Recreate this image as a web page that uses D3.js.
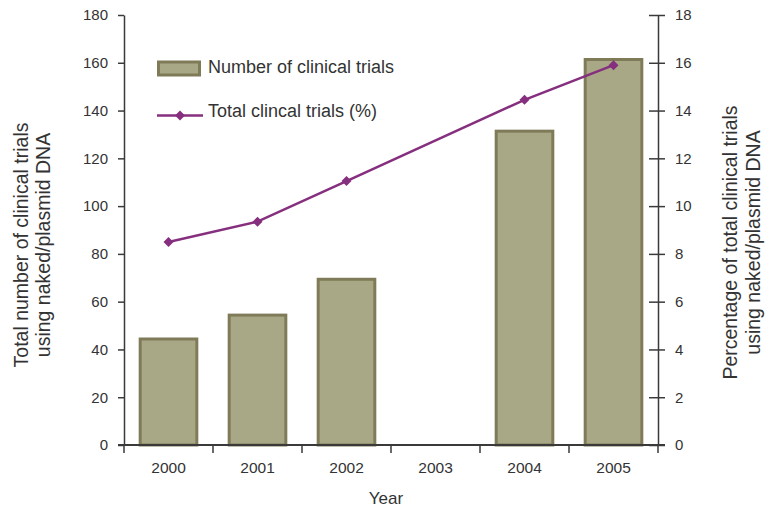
<!DOCTYPE html>
<html><head><meta charset="utf-8">
<script src="https://cdn.jsdelivr.net/npm/d3@7"></script>
<style>
body{margin:0;background:#fff;}
text{font-family:"Liberation Sans",Arial,Helvetica,sans-serif;fill:#333;}
</style></head>
<body><svg id="c" width="766" height="507"></svg>
<script>
const years = ["2000","2001","2002","2003","2004","2005"];
const trialCounts = [45, 55, 70, 0, 132, 162];
const trialPct = [8.5, 9.35, 11.05, null, 14.45, 15.9];
const leftTicks = [0,20,40,60,80,100,120,140,160,180];
const rightTicks = [0,2,4,6,8,10,12,14,16,18];

const svg = d3.select("#c");
const L=124, R=658, T=15, B=445;
const x = d3.scaleBand().domain(years).range([L,R]).paddingInner(0.33).paddingOuter(0.165);
const yL = d3.scaleLinear().domain([0,180]).range([B,T]);
const yR = d3.scaleLinear().domain([0,18]).range([B,T]);
const axisCol="#3a3a3a", barFill="#a9a886", barStroke="#7f7b58", lineCol="#862f7e";

// bars
svg.append("g").selectAll("rect").data(years.map((y,i)=>({y,v:trialCounts[i]})).filter(d=>d.v>0))
 .join("rect").attr("x",d=>x(d.y)+1.5).attr("y",d=>yL(d.v)+1.5)
 .attr("width",x.bandwidth()-3).attr("height",d=>B-yL(d.v)-1.5)
 .attr("fill",barFill).attr("stroke",barStroke).attr("stroke-width",3);

// left axis
const gl = svg.append("g").attr("transform",`translate(${L},0)`)
 .call(d3.axisLeft(yL).tickValues(leftTicks).tickSize(6).tickPadding(10).tickSizeOuter(0));
gl.selectAll("text").style("font-size","15px");
// right axis
const gr = svg.append("g").attr("transform",`translate(${R},0)`)
 .call(d3.axisRight(yR).tickValues(rightTicks).tickSize(7).tickPadding(10).tickSizeOuter(0));
gr.selectAll(".tick").append("line").attr("x2",-9).attr("stroke","currentColor");
gr.selectAll("text").style("font-size","15px");
// bottom axis
const gb = svg.append("g").attr("transform",`translate(0,${B})`)
 .call(d3.axisBottom(x).tickSize(0).tickPadding(17).tickSizeOuter(0));
gb.selectAll("text").style("font-size","15.5px");
gb.select(".domain").attr("d",`M${L-6},0H${R+7}`).attr("stroke-width",2);
const bounds = years.map(y=>x(y)-x.step()*x.paddingInner()/2).concat([R]);
gb.selectAll(".bt").data(bounds).join("line").attr("class","bt")
 .attr("x1",d=>d).attr("x2",d=>d).attr("y1",0).attr("y2",8).attr("stroke",axisCol).attr("stroke-width",1.5);
[gl,gr,gb].forEach(g=>{g.attr("color",axisCol);g.selectAll("text").attr("fill","#333");});
gl.select(".domain").attr("stroke-width",1.5);gr.select(".domain").attr("stroke-width",1.5);
gl.selectAll(".tick line").attr("stroke-width",1.5);gr.selectAll(".tick line").attr("stroke-width",1.5);

// line
const pts = years.map((y,i)=>({y,v:trialPct[i]})).filter(d=>d.v!=null);
const cx = d=>x(d.y)+x.bandwidth()/2;
svg.append("path").datum(pts).attr("fill","none").attr("stroke",lineCol).attr("stroke-width",2.5)
 .attr("d",d3.line().x(cx).y(d=>yR(d.v)));
const diamond = d3.symbol().type(d3.symbolSquare).size(50);
svg.append("g").selectAll("path").data(pts).join("path").attr("d",diamond)
 .attr("transform",d=>`translate(${cx(d)},${yR(d.v)}) rotate(45)`).attr("fill",lineCol);

// legend
svg.append("rect").attr("x",158.5).attr("y",62).attr("width",41).attr("height",13)
 .attr("fill",barFill).attr("stroke",barStroke).attr("stroke-width",3);
svg.append("text").attr("x",208).attr("y",72.5).style("font-size","18px").text("Number of clinical trials");
svg.append("line").attr("x1",157).attr("x2",203).attr("y1",115.5).attr("y2",115.5).attr("stroke",lineCol).attr("stroke-width",2.5);
svg.append("path").attr("d",diamond).attr("transform","translate(180,115.5) rotate(45)").attr("fill",lineCol);
svg.append("text").attr("x",208).attr("y",117).style("font-size","18px").text("Total clincal trials (%)");

// titles
svg.append("text").attr("x",386).attr("y",504).attr("text-anchor","middle").style("font-size","17px").text("Year");
const lt = svg.append("text").attr("transform","translate(27.5,245) rotate(-90)").attr("text-anchor","middle").style("font-size","19.5px");
lt.append("tspan").attr("x",0).attr("dy",0).text("Total number of clinical trials");
lt.append("tspan").attr("x",0).attr("dy",22.5).text("using naked/plasmid DNA");
const rt = svg.append("text").attr("transform","translate(737,242.5) rotate(-90)").attr("text-anchor","middle").style("font-size","19.5px");
rt.append("tspan").attr("x",0).attr("dy",0).text("Percentage of total clinical trials");
rt.append("tspan").attr("x",0).attr("dy",22.5).text("using naked/plasmid DNA");
</script></body></html>
